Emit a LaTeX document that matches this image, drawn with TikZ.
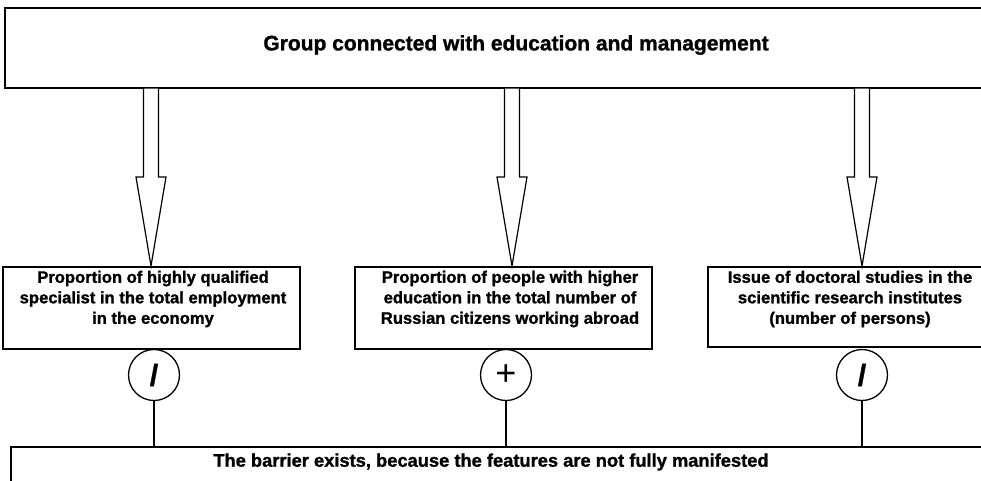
\documentclass[tikz,border=0pt]{standalone}
\usepackage{fontspec}
\setmainfont{Liberation Sans}[BoldFeatures={FakeBold=1.2}]
\usetikzlibrary{calc}
\begin{document}
\begin{tikzpicture}[x=1pt,y=-1pt,line width=1.3pt,
  box/.style={draw, rectangle, inner sep=0pt},
  boxtext/.style={align=center, font=\bfseries\fontsize{16.6}{20.5}\selectfont},
  op/.style={draw, circle, minimum size=51pt, inner sep=0pt, fill=white},
  hollow/.style={draw, fill=white, line width=1.2pt, line join=miter}]
\useasboundingbox (0,0) rectangle (981,480);
\clip (0,0) rectangle (981,480);
% top box
\node[box, minimum width=985pt, minimum height=80pt] (top) at (497.5,48) {};
\node[font=\bfseries\fontsize{21}{24}\selectfont] (toptext) at (516,45) {Group connected with education and management};
% middle boxes
\node[box, minimum width=297pt, minimum height=82pt] (lb) at (151.5,308) {};
\node[box, minimum width=297pt, minimum height=82pt] (mb) at (503.5,308) {};
\node[box, minimum width=297pt, minimum height=80pt] (rb) at (856.5,307) {};
\node[boxtext] (lt) at (153,299) {Proportion of highly qualified\\specialist in the total employment\\in the economy};
\node[boxtext] (mt) at (510,299) {Proportion of people with higher\\education in the total number of\\Russian citizens working abroad};
\node[boxtext] (rt) at (850,299) {Issue of doctoral studies in the\\scientific research institutes\\(number of persons)};
% bottom box
\node[box, minimum width=989pt, minimum height=60pt] (bot) at (505.5,477) {};
\node[font=\bfseries\fontsize{18.3}{20}\selectfont] (bottext) at (491,462) {The barrier exists, because the features are not fully manifested};
% arrow tips
\coordinate (t1) at (151,266);
\coordinate (t2) at (512,266);
\coordinate (t3) at (862,266);
\foreach \t in {t1,t2,t3}{
  \draw[hollow] ($(\t |- top.south)+(-7.5,0)$) -- ($(\t)+(-7.5,-89)$) -- ($(\t)+(-15,-89)$) -- (\t) -- ($(\t)+(15,-89)$) -- ($(\t)+(7.5,-89)$) -- ($(\t |- top.south)+(7.5,0)$);
}
% operators
\node[op, font=\bfseries\fontsize{30}{30}\selectfont] (c1) at (154,375) {/};
\node[op, font=\fontsize{36}{36}\selectfont] (c2) at (506,375) {+};
\node[op, font=\bfseries\fontsize{30}{30}\selectfont] (c3) at (862,375) {/};
\draw (c1) -- (c1 |- bot.north);
\draw (c2) -- (c2 |- bot.north);
\draw (c3) -- (c3 |- bot.north);
\end{tikzpicture}
\end{document}
